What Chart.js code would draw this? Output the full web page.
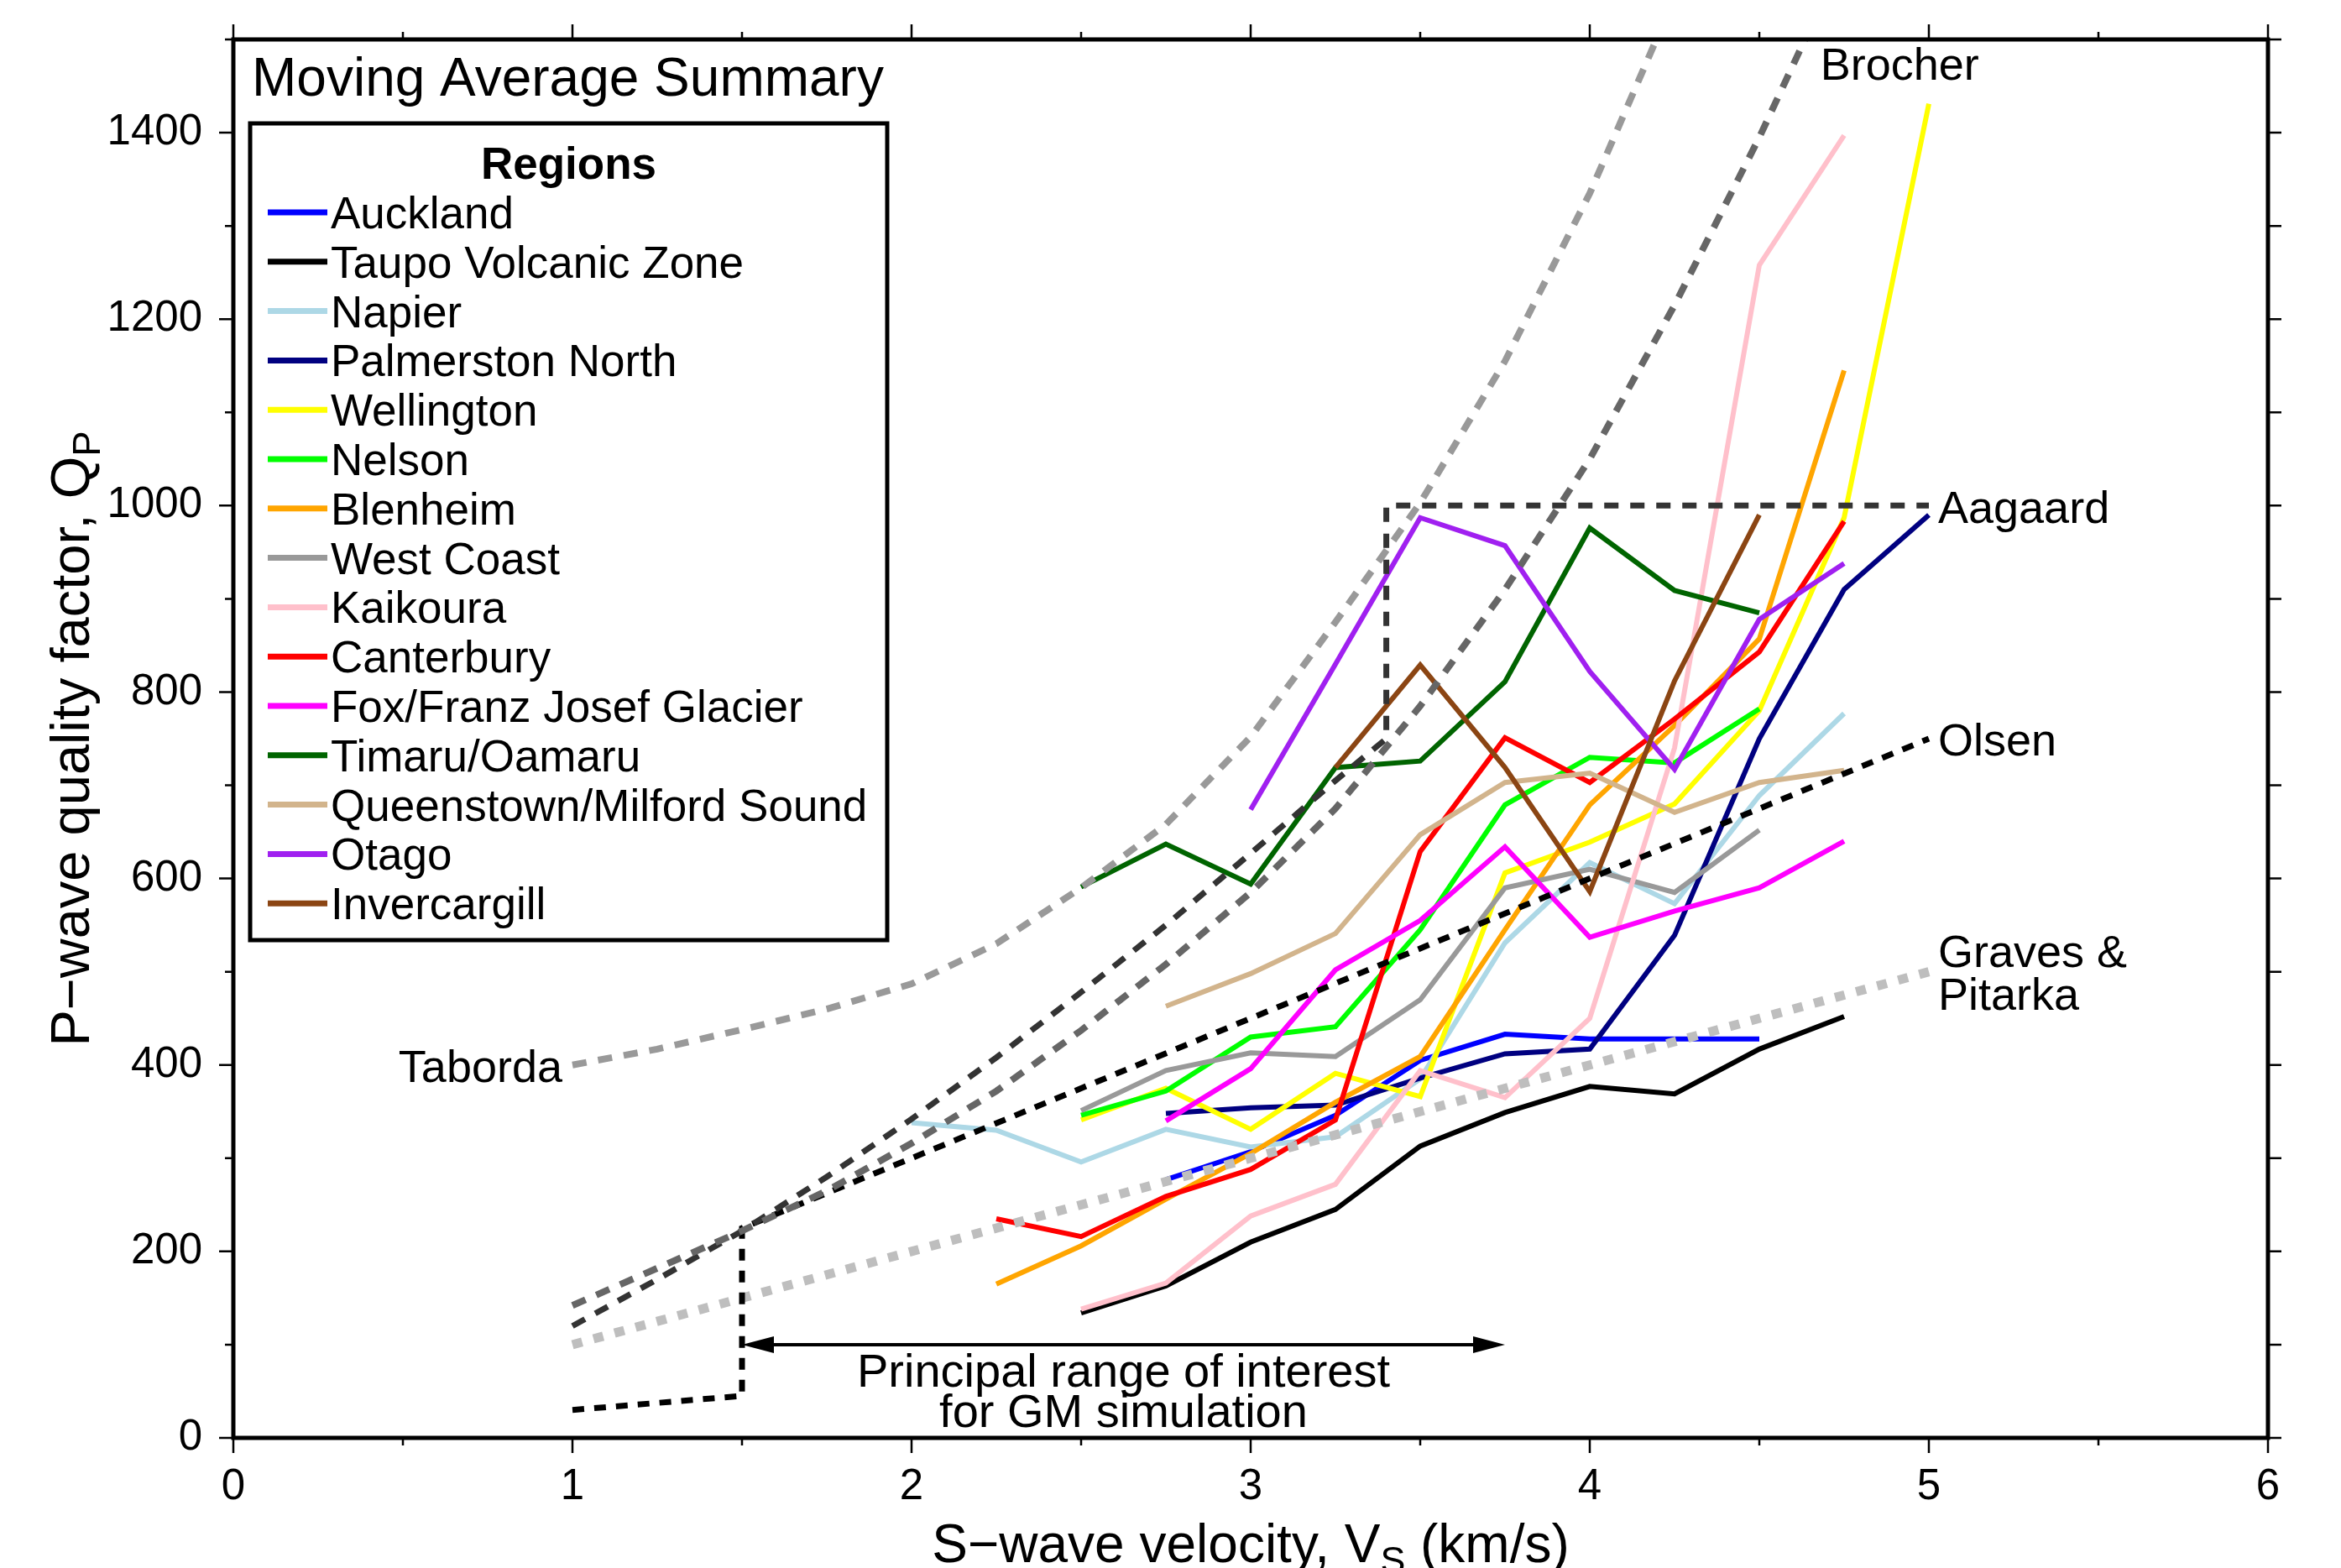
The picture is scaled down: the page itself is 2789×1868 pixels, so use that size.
<!DOCTYPE html>
<html><head><meta charset="utf-8">
<script src="https://cdn.jsdelivr.net/npm/chart.js@4.4.1/dist/chart.umd.min.js"></script>
<style>html,body{margin:0;padding:0;background:#fff;overflow:hidden}</style>
</head><body>
<canvas id="c" width="2789" height="1868"></canvas>
<script>
// ---------------- DATA ----------------
const VS_GRID = [2.0, 2.25, 2.5, 2.75, 3.0, 3.25, 3.5, 3.75, 4.0, 4.25, 4.5, 4.75, 5.0];
const REGION_NAMES = ["Auckland", "Taupo Volcanic Zone", "Napier", "Palmerston North", "Wellington",
  "Nelson", "Blenheim", "West Coast", "Kaikoura", "Canterbury", "Fox/Franz Josef Glacier",
  "Timaru/Oamaru", "Queenstown/Milford Sound", "Otago", "Invercargill"];
const auckland        = [null, null, null, 277, 307, 346, 405, 433, 428, 428, 428, null, null];
const taupo           = [null, null, 134, 163, 210, 245, 313, 349, 377, 369, 417, 452, null];
const napier          = [338, 330, 296, 331, 312, 323, 385, 531, 617, 573, 689, 777, null];
const palmerstonNorth = [null, null, null, 348, 354, 357, 386, 412, 417, 539, 750, 910, 990];
const wellington      = [null, null, 341, 375, 331, 391, 366, 606, 639, 680, 780, 987, 1431];
const nelson          = [null, null, 346, 372, 430, 441, 545, 679, 730, 724, 782, null, null];
const blenheim        = [null, 165, 206, 256, 305, 360, 409, 545, 679, 764, 857, 1145, null];
const westCoast       = [null, null, 351, 394, 413, 409, 470, 590, 610, 585, 652, null, null];
const kaikoura        = [null, null, 138, 166, 238, 272, 394, 365, 450, 740, 1258, 1397, null];
const canterbury      = [null, 235, 216, 259, 288, 341, 629, 751, 703, 771, 843, 983, null];
const foxFranzJosef   = [null, null, null, 340, 396, 502, 555, 634, 537, 565, 590, 640, null];
const timaruOamaru    = [null, null, 591, 637, 594, 719, 726, 811, 976, 909, 885, null, null];
const queenstown      = [null, null, null, 463, 498, 541, 647, 703, 713, 671, 703, 716, null];
const otago           = [null, null, null, null, 674, 830, 987, 957, 822, 717, 878, 938, null];
const invercargill    = [null, null, null, null, null, 719, 829, 719, 586, 812, 990, null, null];

// reference models
const TABORDA_VS = [1.0, 1.25, 1.5, 1.75, 2.0, 2.25, 2.5, 2.75, 3.0, 3.25, 3.5, 3.75, 4.0, 4.25];
const TABORDA_QP = [400, 417, 438, 460, 487, 530, 590, 658, 752, 875, 1003, 1155, 1335, 1545];
const BROCHER_VS = [1.0, 1.25, 1.5, 1.75, 2.0, 2.25, 2.5, 2.75, 3.0, 3.25, 3.5, 3.75, 4.0, 4.25, 4.5, 4.75];
const BROCHER_QP = [142, 182, 222, 265, 316, 372, 437, 508, 585, 675, 785, 910, 1050, 1215, 1395, 1590];
const AAGAARD_VS = [1.0, 1.25, 1.5, 1.75, 2.0, 2.25, 2.5, 2.75, 3.0, 3.25, 3.4, 3.4, 5.0];
const AAGAARD_QP = [120, 170, 222, 280, 342, 408, 478, 550, 627, 705, 750, 1000, 1000];
const OLSEN_VS = [1.0, 1.5, 1.5, 5.0];
const OLSEN_QP = [30, 45, 225, 750];
const GRAVES_VS = [1.0, 2.0, 3.0, 4.0, 5.0];
const GRAVES_QP = [100, 200, 300, 400, 500];

const X_TICKS = [0, 1, 2, 3, 4, 5, 6];
const Y_TICKS = [0, 200, 400, 600, 800, 1000, 1200, 1400];
const PRINCIPAL_RANGE = [1.5, 3.75];

// ---------------- STYLE ----------------
const FONT = "'Liberation Sans', Arial, Helvetica, sans-serif";
const REGION_COLORS = ["#0000ff", "#000000", "#add8e6", "#000080", "#ffff00", "#00ff00", "#ffa500",
  "#999999", "#ffc0cb", "#ff0000", "#ff00ff", "#006400", "#d2b48c", "#a020f0", "#8b4513"];
const regionSeries = [auckland, taupo, napier, palmerstonNorth, wellington, nelson, blenheim,
  westCoast, kaikoura, canterbury, foxFranzJosef, timaruOamaru, queenstown, otago, invercargill];

const toPts = (xs, ys) => xs.map((x, i) => ({x: x, y: ys[i]})).filter(p => p.y !== null);

const datasets = [];
const refs = [
  {label: "Taborda", xs: TABORDA_VS, ys: TABORDA_QP, color: "#999999", w: 8, dash: [17, 14]},
  {label: "Brocher", xs: BROCHER_VS, ys: BROCHER_QP, color: "#666666", w: 8, dash: [17, 14]},
  {label: "Aagaard", xs: AAGAARD_VS, ys: AAGAARD_QP, color: "#333333", w: 7, dash: [17, 14]},
  {label: "Olsen", xs: OLSEN_VS, ys: OLSEN_QP, color: "#000000", w: 7, dash: [14, 12]},
  {label: "Graves & Pitarka", xs: GRAVES_VS, ys: GRAVES_QP, color: "#bebebe", w: 11, dash: [12, 14]}
];
refs.forEach(r => datasets.push({
  label: r.label, data: toPts(r.xs, r.ys), borderColor: r.color, borderWidth: r.w,
  borderDash: r.dash, showLine: true, pointRadius: 0, fill: false, order: 0, isRef: true
}));
regionSeries.forEach((s, i) => datasets.push({
  label: REGION_NAMES[i], data: toPts(VS_GRID, s), borderColor: REGION_COLORS[i],
  borderWidth: 6, showLine: true, pointRadius: 0, fill: false, order: 20 - i, isRef: false,
  borderJoinStyle: 'miter'
}));

// ---------------- DECORATION PLUGIN ----------------
const deco = {
  id: 'deco',
  afterDraw(chart) {
    const ctx = chart.ctx, xs = chart.scales.x, ys = chart.scales.y, a = chart.chartArea;
    ctx.save();
    ctx.strokeStyle = '#000'; ctx.lineWidth = 5;
    ctx.strokeRect(a.left, a.top, a.right - a.left, a.bottom - a.top);
    ctx.lineWidth = 2.5;
    ctx.beginPath();
    for (let v = 0; v <= 6.0001; v += 0.5) {
      const px = xs.getPixelForValue(v);
      const major = Math.abs(v - Math.round(v)) < 1e-6;
      const len = major ? 18 : 9;
      ctx.moveTo(px, a.bottom); ctx.lineTo(px, a.bottom + len);
      ctx.moveTo(px, a.top); ctx.lineTo(px, a.top - len);
    }
    for (let q = 0; q <= 1500; q += 100) {
      const py = ys.getPixelForValue(q);
      const major = q % 200 === 0;
      const len = major ? 17 : 10;
      ctx.moveTo(a.left, py); ctx.lineTo(a.left - len, py);
      ctx.moveTo(a.right, py); ctx.lineTo(a.right + 16, py);
    }
    ctx.stroke();

    ctx.fillStyle = '#000';
    ctx.font = `64px ${FONT}`; ctx.textAlign = 'left'; ctx.textBaseline = 'alphabetic';
    ctx.fillText('Moving Average Summary', 300, 114);

    const measureParts = (parts, size) => {
      let w = 0;
      parts.forEach(p => { ctx.font = `${p[1] ? size * 0.7 : size}px ${FONT}`; w += ctx.measureText(p[0]).width; });
      return w;
    };
    const renderParts = (parts, size, x0, y0) => {
      let x = x0;
      parts.forEach(p => {
        ctx.font = `${p[1] ? size * 0.7 : size}px ${FONT}`;
        ctx.fillText(p[0], x, y0 + (p[1] ? size * 0.2 : 0));
        x += ctx.measureText(p[0]).width;
      });
    };
    ctx.textAlign = 'left';
    const xt = [['S\u2212wave velocity, V', false], ['S', true], [' (km/s)', false]];
    const xw = measureParts(xt, 64);
    renderParts(xt, 64, xs.getPixelForValue(3.0) - xw / 2, 1861);
    const yt = [['P\u2212wave quality factor, Q', false], ['P', true]];
    const yw = measureParts(yt, 65);
    ctx.save();
    ctx.translate(106, (a.top + a.bottom) / 2);
    ctx.rotate(-Math.PI / 2);
    renderParts(yt, 65, -yw / 2, 0);
    ctx.restore();

    ctx.font = `54px ${FONT}`;
    ctx.textAlign = 'right';
    ctx.fillText('Taborda', xs.getPixelForValue(1.0) - 12, ys.getPixelForValue(400) + 20);
    ctx.textAlign = 'left';
    ctx.fillText('Brocher', xs.getPixelForValue(4.68), a.top + 48);
    const x5 = xs.getPixelForValue(5.0) + 11;
    ctx.fillText('Aagaard', x5, ys.getPixelForValue(1000) + 21);
    ctx.fillText('Olsen', x5, ys.getPixelForValue(750) + 20);
    ctx.fillText('Graves &', x5, ys.getPixelForValue(500) - 6);
    ctx.fillText('Pitarka', x5, ys.getPixelForValue(500) + 45);

    const ay = ys.getPixelForValue(100);
    const ax1 = xs.getPixelForValue(PRINCIPAL_RANGE[0]), ax2 = xs.getPixelForValue(PRINCIPAL_RANGE[1]);
    const hl = 38, hw = 10;
    ctx.lineWidth = 4;
    ctx.beginPath(); ctx.moveTo(ax1 + hl - 2, ay); ctx.lineTo(ax2 - hl + 2, ay); ctx.stroke();
    ctx.beginPath(); ctx.moveTo(ax1, ay); ctx.lineTo(ax1 + hl, ay - hw); ctx.lineTo(ax1 + hl, ay + hw); ctx.closePath(); ctx.fill();
    ctx.beginPath(); ctx.moveTo(ax2, ay); ctx.lineTo(ax2 - hl, ay - hw); ctx.lineTo(ax2 - hl, ay + hw); ctx.closePath(); ctx.fill();
    ctx.font = `56px ${FONT}`; ctx.textAlign = 'center';
    const tx = xs.getPixelForValue(2.625);
    ctx.fillText('Principal range of interest', tx, ay + 50);
    ctx.fillText('for GM simulation', tx, ay + 98);

    const L = {x: 298, y: 147, w: 759, h: 973};
    ctx.fillStyle = '#fff'; ctx.fillRect(L.x, L.y, L.w, L.h);
    ctx.strokeStyle = '#000'; ctx.lineWidth = 5; ctx.strokeRect(L.x, L.y, L.w, L.h);
    ctx.fillStyle = '#000';
    ctx.font = `bold 53px ${FONT}`; ctx.textAlign = 'center';
    ctx.fillText('Regions', L.x + L.w / 2, 213);
    ctx.font = `53px ${FONT}`; ctx.textAlign = 'left';
    const regs = chart.data.datasets.filter(d => !d.isRef);
    regs.forEach((d, i) => {
      const cy = 253 + i * 58.8;
      ctx.strokeStyle = d.borderColor; ctx.lineWidth = 7; ctx.setLineDash([]);
      ctx.beginPath(); ctx.moveTo(319, cy); ctx.lineTo(390, cy); ctx.stroke();
      ctx.fillStyle = '#000';
      ctx.fillText(d.label, 394, cy + 19);
    });
    ctx.restore();
  }
};

new Chart(document.getElementById('c'), {
  type: 'scatter',
  data: {datasets: datasets},
  options: {
    responsive: false, animation: false, devicePixelRatio: 1,
    layout: {padding: {left: 0, right: 87, top: 47, bottom: 0}},
    plugins: {legend: {display: false}, tooltip: {enabled: false}, title: {display: false}},
    elements: {line: {tension: 0}},
    scales: {
      x: {
        type: 'linear', min: 0, max: 6,
        grid: {display: false, drawTicks: false}, border: {display: false},
        afterFit: s => { s.height = 155; s.paddingLeft = 0; s.paddingRight = 0; s.paddingTop = 0; s.paddingBottom = 0; },
        afterBuildTicks: s => { s.ticks = X_TICKS.map(v => ({value: v})); },
        ticks: {padding: 28, color: '#000', font: {size: 51, family: FONT}, maxRotation: 0, autoSkip: false,
                callback: v => String(v)}
      },
      y: {
        type: 'linear', min: 0, max: 1500,
        grid: {display: false, drawTicks: false}, border: {display: false},
        afterFit: s => { s.width = 278; s.paddingLeft = 0; s.paddingRight = 0; s.paddingTop = 0; s.paddingBottom = 0; },
        afterBuildTicks: s => { s.ticks = Y_TICKS.map(v => ({value: v})); },
        ticks: {padding: 37, color: '#000', font: {size: 51, family: FONT}, autoSkip: false,
                callback: v => String(v)}
      }
    }
  },
  plugins: [deco]
});
</script>
</body></html>
